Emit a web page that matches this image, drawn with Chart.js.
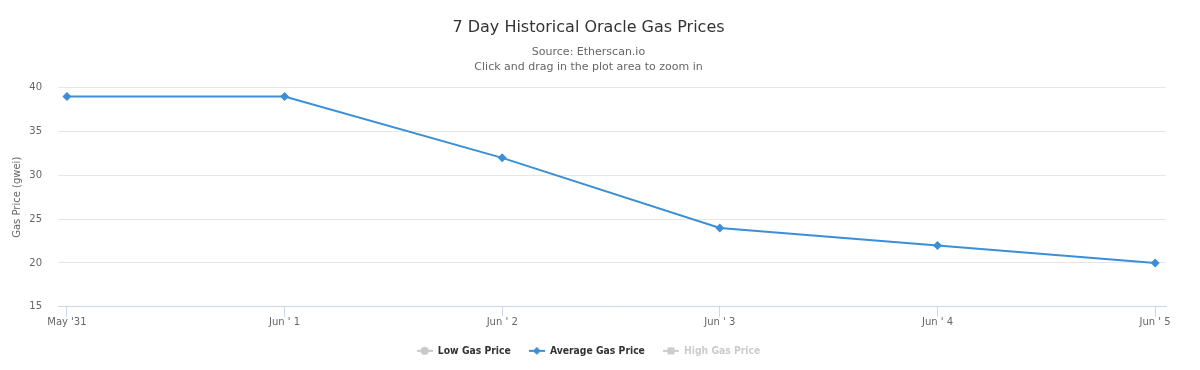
<!DOCTYPE html>
<html>
<head>
<meta charset="utf-8">
<style>
  html, body { margin: 0; padding: 0; background: #fff; }
  #wrap { width: 1200px; height: 370px; }
</style>
</head>
<body>
<div id="wrap"><canvas id="gasChart"></canvas></div>

<script src="https://cdn.jsdelivr.net/npm/chart.js"></script>
<script>
    // days shown on the x axis
    const dayLabels = ["May '31", "Jun ' 1", "Jun ' 2", "Jun ' 3", "Jun ' 4", "Jun ' 5"];
    // average gas price per day (gwei)
    const avgGasPrice = [39, 39, 32, 24, 22, 20];
    // low / high series have nothing plotted (low shown empty, high hidden)
    const lowGasPrice = [];
    const highGasPrice = [];
    const yTicks = [15, 20, 25, 30, 35, 40];

    const FONT = "'DejaVu Sans', Verdana, sans-serif";
    const LEGEND_FONT = "'DejaVu Sans Condensed', 'DejaVu Sans', sans-serif";
    const BLUE = '#3a8fd6';

    const toPoints = arr => arr.map((v, i) => ({ x: i, y: v }));

    // little "line + marker" symbol for the legend, like the original
    function legendSymbol(color, shape) {
        const c = document.createElement('canvas');
        c.width = 16; c.height = 10;
        const g = c.getContext('2d');
        g.strokeStyle = color;
        g.fillStyle = color;
        g.lineWidth = 2;
        g.beginPath(); g.moveTo(0, 5); g.lineTo(16, 5); g.stroke();
        g.beginPath();
        if (shape === 'circle') {
            g.arc(8, 5, 4, 0, Math.PI * 2);
        } else if (shape === 'diamond') {
            g.moveTo(8, 1); g.lineTo(12, 5); g.lineTo(8, 9); g.lineTo(4, 5); g.closePath();
        } else {
            g.rect(4.5, 1.5, 7, 7);
        }
        g.fill();
        return c;
    }

    const config = {
        type: 'line',
        data: {
            datasets: [
                {
                    label: 'Low Gas Price',
                    data: toPoints(lowGasPrice),
                    borderColor: '#c8c8c8',
                    backgroundColor: '#c8c8c8',
                    pointStyle: 'circle',
                    legendShape: 'circle'
                },
                {
                    label: 'Average Gas Price',
                    data: toPoints(avgGasPrice),
                    borderColor: BLUE,
                    backgroundColor: BLUE,
                    borderWidth: 2,
                    pointStyle: 'rectRot',
                    pointRadius: 4.5,
                    pointBorderWidth: 0,
                    tension: 0,
                    legendShape: 'diamond'
                },
                {
                    label: 'High Gas Price',
                    data: toPoints(highGasPrice),
                    borderColor: '#cccccc',
                    backgroundColor: '#cccccc',
                    pointStyle: 'rect',
                    legendShape: 'square',
                    hidden: true
                }
            ]
        },
        options: {
            responsive: true,
            maintainAspectRatio: false,
            animation: false,
            layout: {
                autoPadding: false,
                padding: { left: 11, right: 34, top: 6, bottom: 4 }
            },
            scales: {
                x: {
                    type: 'linear',
                    min: -0.041,
                    max: 5.05,
                    afterFit: axis => { axis.height = 21; },
                    grid: {
                        drawOnChartArea: false,
                        drawTicks: true,
                        tickLength: 10,
                        color: '#ccd6eb'
                    },
                    border: { color: '#ccd6eb' },
                    ticks: {
                        stepSize: 1,
                        includeBounds: false,
                        autoSkip: false,
                        maxRotation: 0,
                        padding: 0,
                        color: '#666666',
                        font: { family: FONT, size: 10 },
                        callback: v => dayLabels[v] ?? ''
                    }
                },
                y: {
                    min: 15,
                    max: 40,
                    afterBuildTicks: axis => { axis.ticks = yTicks.map(v => ({ value: v })); },
                    afterFit: axis => { axis.width = 47; },
                    grid: { color: '#e6e6e6', drawTicks: false },
                    border: { display: false },
                    ticks: {
                        padding: 16,
                        color: '#666666',
                        font: { family: FONT, size: 10 }
                    },
                    title: {
                        display: true,
                        text: 'Gas Price (gwei)',
                        color: '#666666',
                        font: { family: FONT, size: 10 },
                        padding: { top: 0, bottom: 4 }
                    }
                }
            },
            plugins: {
                title: {
                    display: true,
                    text: '7 Day Historical Oracle Gas Prices',
                    color: '#333333',
                    font: { family: FONT, size: 16, weight: 'normal' },
                    padding: { top: 12, bottom: 8 }
                },
                subtitle: {
                    display: true,
                    text: ['Source: Etherscan.io', 'Click and drag in the plot area to zoom in'],
                    color: '#666666',
                    font: { family: FONT, size: 11, lineHeight: 1.3 },
                    padding: { top: 0, bottom: 14 }
                },
                legend: {
                    position: 'bottom',
                    labels: {
                        usePointStyle: true,
                        pointStyleWidth: 16,
                        boxHeight: 10,
                        padding: 18,
                        font: { family: LEGEND_FONT, size: 10.3, weight: 'bold' },
                        generateLabels: chart => chart.data.datasets.map((ds, i) => {
                            const hidden = !chart.isDatasetVisible(i);
                            const col = hidden ? '#cccccc' : ds.borderColor;
                            return {
                                text: ds.label,
                                fillStyle: col,
                                strokeStyle: col,
                                lineWidth: 0,
                                pointStyle: legendSymbol(col, ds.legendShape),
                                fontColor: hidden ? '#cccccc' : '#333333',
                                hidden: false,
                                datasetIndex: i
                            };
                        })
                    }
                },
                tooltip: { enabled: false }
            }
        }
    };

    const ctx = document.getElementById('gasChart').getContext('2d');
    const gasChart = new Chart(ctx, config);
</script>
</body>
</html>
